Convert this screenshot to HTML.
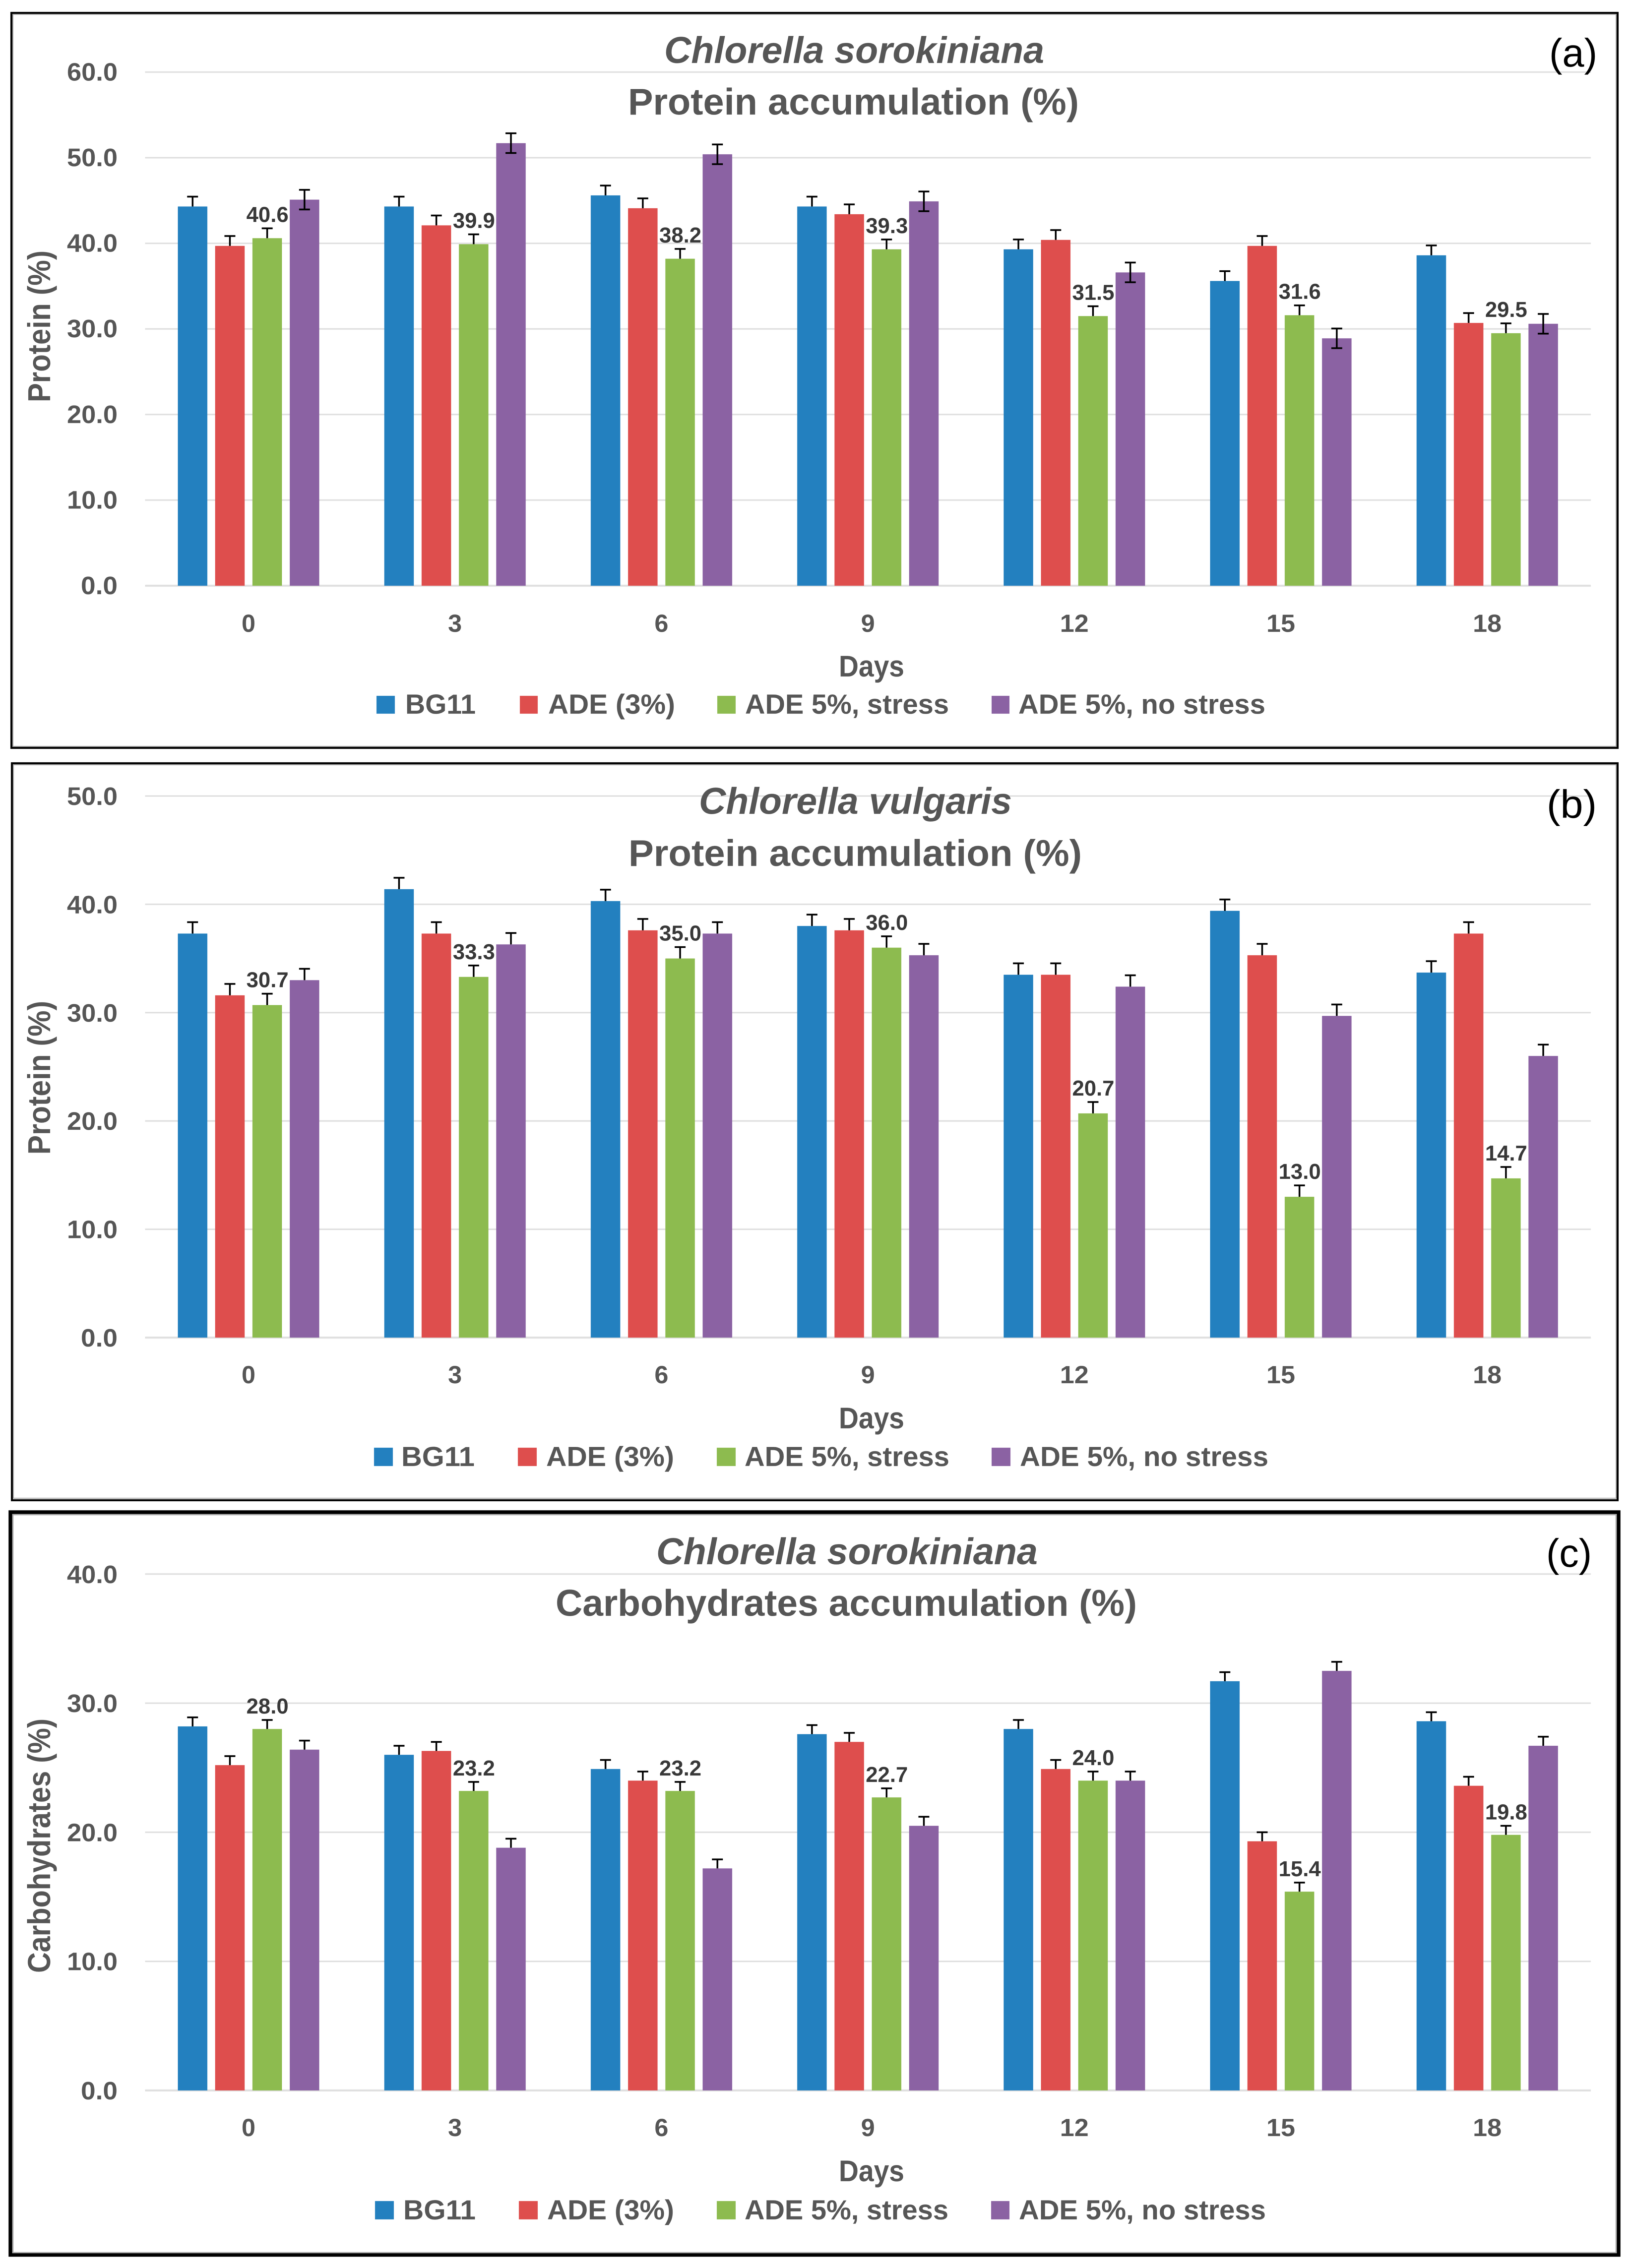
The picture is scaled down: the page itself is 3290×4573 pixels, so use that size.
<!DOCTYPE html>
<html lang="en">
<head>
<meta charset="utf-8">
<title>Chlorella protein and carbohydrate accumulation</title>
<style>
html,body{margin:0;padding:0;background:#fff;}
svg{display:block;filter:blur(0.7px);}
text{font-family:"Liberation Sans",sans-serif;font-weight:700;fill:#565656;}
.sp{font-size:75px;font-style:italic;}
.tt{font-size:75px;}
.lg{font-size:56px;}
.dy{font-size:60px;}
.yt{font-size:64px;}
.pl{font-size:80px;font-weight:400;fill:#000;}
</style>
</head>
<body>
<svg xmlns="http://www.w3.org/2000/svg" width="3290" height="4573" viewBox="0 0 3290 4573">
  <rect x="0" y="0" width="3290" height="4573" fill="#fff"/>

  <g>
    <rect x="23" y="26" width="3238" height="1482" fill="none" stroke="#000" stroke-width="4"/>
    <rect x="26" y="29" width="3232" height="1476" fill="none" stroke="#aaa" stroke-width="2"/>
    <g id="plot-a"></g>
    <text class="sp" x="1339" y="127" textLength="766" lengthAdjust="spacingAndGlyphs">Chlorella sorokiniana</text>
    <text class="tt" x="1266" y="231" textLength="909" lengthAdjust="spacingAndGlyphs">Protein accumulation (%)</text>
    <text class="pl" x="3123" y="134" textLength="97" lengthAdjust="spacingAndGlyphs">(a)</text>
    <text class="yt" transform="translate(101,811) rotate(-90)" textLength="306" lengthAdjust="spacingAndGlyphs">Protein (%)</text>
    <text class="dy" x="1691" y="1364" textLength="132" lengthAdjust="spacingAndGlyphs">Days</text>
    <g>
      <rect x="759" y="1403" width="37" height="36" fill="#2380BF"/>
      <text class="lg" x="817" y="1439" textLength="142" lengthAdjust="spacingAndGlyphs">BG11</text>
      <rect x="1048" y="1403" width="36" height="36" fill="#DE4E4D"/>
      <text class="lg" x="1105" y="1439" textLength="256" lengthAdjust="spacingAndGlyphs">ADE (3%)</text>
      <rect x="1446" y="1403" width="37" height="36" fill="#8DBB4F"/>
      <text class="lg" x="1502" y="1439" textLength="411" lengthAdjust="spacingAndGlyphs">ADE 5%, stress</text>
      <rect x="1999" y="1403" width="36" height="36" fill="#8B62A3"/>
      <text class="lg" x="2053" y="1439" textLength="498" lengthAdjust="spacingAndGlyphs">ADE 5%, no stress</text>
    </g>
  </g>

  <g>
    <rect x="24" y="1539" width="3237" height="1486" fill="none" stroke="#000" stroke-width="4"/>
    <rect x="27" y="1542" width="3231" height="1479" fill="none" stroke="#aaa" stroke-width="2"/>
    <g id="plot-b"></g>
    <text class="sp" x="1409" y="1641" textLength="631" lengthAdjust="spacingAndGlyphs">Chlorella vulgaris</text>
    <text class="tt" x="1267" y="1746" textLength="914" lengthAdjust="spacingAndGlyphs">Protein accumulation (%)</text>
    <text class="pl" x="3118" y="1649" textLength="101" lengthAdjust="spacingAndGlyphs">(b)</text>
    <text class="yt" transform="translate(101,2328) rotate(-90)" textLength="310" lengthAdjust="spacingAndGlyphs">Protein (%)</text>
    <text class="dy" x="1691" y="2880" textLength="132" lengthAdjust="spacingAndGlyphs">Days</text>
    <g>
      <rect x="754" y="2919" width="38" height="37" fill="#2380BF"/>
      <text class="lg" x="809" y="2956" textLength="148" lengthAdjust="spacingAndGlyphs">BG11</text>
      <rect x="1044" y="2919" width="38" height="37" fill="#DE4E4D"/>
      <text class="lg" x="1101" y="2956" textLength="258" lengthAdjust="spacingAndGlyphs">ADE (3%)</text>
      <rect x="1445" y="2919" width="38" height="37" fill="#8DBB4F"/>
      <text class="lg" x="1501" y="2956" textLength="413" lengthAdjust="spacingAndGlyphs">ADE 5%, stress</text>
      <rect x="1999" y="2919" width="38" height="37" fill="#8B62A3"/>
      <text class="lg" x="2056" y="2956" textLength="501" lengthAdjust="spacingAndGlyphs">ADE 5%, no stress</text>
    </g>
  </g>

  <g>
    <rect x="21" y="3049" width="3242" height="1497.5" fill="none" stroke="#000" stroke-width="7.5"/>
    <rect x="26" y="3054" width="3232" height="1488" fill="none" stroke="#aaa" stroke-width="2.5"/>
    <g id="plot-c"></g>
    <text class="sp" x="1323" y="3154" textLength="769" lengthAdjust="spacingAndGlyphs">Chlorella sorokiniana</text>
    <text class="tt" x="1120" y="3258" textLength="1172" lengthAdjust="spacingAndGlyphs">Carbohydrates accumulation (%)</text>
    <text class="pl" x="3117" y="3159" textLength="92" lengthAdjust="spacingAndGlyphs">(c)</text>
    <text class="yt" transform="translate(101,3978) rotate(-90)" textLength="513" lengthAdjust="spacingAndGlyphs">Carbohydrates (%)</text>
    <text class="dy" x="1691" y="4398" textLength="132" lengthAdjust="spacingAndGlyphs">Days</text>
    <g>
      <rect x="756" y="4438" width="38" height="37" fill="#2380BF"/>
      <text class="lg" x="813" y="4475" textLength="146" lengthAdjust="spacingAndGlyphs">BG11</text>
      <rect x="1046" y="4438" width="38" height="37" fill="#DE4E4D"/>
      <text class="lg" x="1103" y="4475" textLength="256" lengthAdjust="spacingAndGlyphs">ADE (3%)</text>
      <rect x="1445" y="4438" width="38" height="37" fill="#8DBB4F"/>
      <text class="lg" x="1501" y="4475" textLength="411" lengthAdjust="spacingAndGlyphs">ADE 5%, stress</text>
      <rect x="1998" y="4438" width="37" height="37" fill="#8B62A3"/>
      <text class="lg" x="2054" y="4475" textLength="498" lengthAdjust="spacingAndGlyphs">ADE 5%, no stress</text>
    </g>
  </g>
</svg>

<script>
// Shared categories
const days = ['0', '3', '6', '9', '12', '15', '18'];

// Panel (a) values: Chlorella sorokiniana protein
const aTicks = [0, 10, 20, 30, 40, 50, 60];
const aBG11 = [44.3, 44.3, 45.6, 44.3, 39.3, 35.6, 38.6];
const aADE3 = [39.7, 42.1, 44.1, 43.4, 40.4, 39.7, 30.7];
const aStress = [40.6, 39.9, 38.2, 39.3, 31.5, 31.6, 29.5];
const aNoStress = [45.1, 51.7, 50.4, 44.9, 36.6, 28.9, 30.6];
const aError = 1.15;

// Panel (b) values: Chlorella vulgaris protein
const bTicks = [0, 10, 20, 30, 40, 50];
const bBG11 = [37.3, 41.4, 40.3, 38.0, 33.5, 39.4, 33.7];
const bADE3 = [31.6, 37.3, 37.6, 37.6, 33.5, 35.3, 37.3];
const bStress = [30.7, 33.3, 35.0, 36.0, 20.7, 13.0, 14.7];
const bNoStress = [33.0, 36.3, 37.3, 35.3, 32.4, 29.7, 26.0];
const bError = 1.05;

// Panel (c) values: Chlorella sorokiniana carbohydrates
const cTicks = [0, 10, 20, 30, 40];
const cBG11 = [28.2, 26.0, 24.9, 27.6, 28.0, 31.7, 28.6];
const cADE3 = [25.2, 26.3, 24.0, 27.0, 24.9, 19.3, 23.6];
const cStress = [28.0, 23.2, 23.2, 22.7, 24.0, 15.4, 19.8];
const cNoStress = [26.4, 18.8, 17.2, 20.5, 24.0, 32.5, 26.7];
const cError = 0.7;

const NS = 'http://www.w3.org/2000/svg';

// Axis functions
function xGroup(i) { return 358.5 + 416.2 * i; }
function xBar(i, s) { return xGroup(i) + 75.2 * s; }
function yAxisA(v) { return 1181 - v * 17.26; }
function yAxisB(v) { return 2697 - v * 21.84; }
function yAxisC(v) { return 4215 - v * 26.03; }

function line(parent, x1, y1, x2, y2, color, width, name) {
  const el = document.createElementNS(NS, 'line');
  el.setAttribute('x1', x1);
  el.setAttribute('y1', y1);
  el.setAttribute('x2', x2);
  el.setAttribute('y2', y2);
  el.setAttribute('stroke', color);
  el.setAttribute('stroke-width', width);
  
  
  parent.appendChild(el);
}

function label(parent, str, x, y, size, width, color, name) {
  const el = document.createElementNS(NS, 'text');
  el.setAttribute('x', x);
  el.setAttribute('y', y);
  el.setAttribute('font-size', size);
  el.setAttribute('textLength', width);
  el.setAttribute('lengthAdjust', 'spacingAndGlyphs');
  el.style.fill = color;
  el.textContent = str;
  
  
  parent.appendChild(el);
}

function drawPanel(id, yAxis, ticks, seriesList, err, bothSidesLast, tickTextY, tickLabelBaseline) {
  const plot = document.getElementById(id);
  const colors = ['#2380BF', '#DE4E4D', '#8DBB4F', '#8B62A3'];
  const seriesNames = ['bg11', 'ade3', 'ade5-stress', 'ade5-no-stress'];
  ticks.forEach(function (t) {
    const y = yAxis(t);
    line(plot, 292.5, y, 3207, y, '#dfdfdf', t === 0 ? 4 : 3, 'gridline-' + t);
    const str = t.toFixed(1);
    const w = str.length === 4 ? 102 : 74;
    label(plot, str, 237 - w, y + tickTextY, 51, w, '#565656', 'y-tick-label-' + t);
  });
  days.forEach(function (d, i) {
    const w = d.length === 2 ? 58 : 28;
    label(plot, d, xGroup(i) + 142.5 - w / 2, tickLabelBaseline, 50, w, '#565656', 'x-tick-label-' + d);
  });
  seriesList.forEach(function (values, s) {
    values.forEach(function (v, i) {
      const rect = document.createElementNS(NS, 'rect');
      const top = yAxis(v);
      rect.setAttribute('x', xBar(i, s));
      rect.setAttribute('y', top);
      rect.setAttribute('width', 59.5);
      rect.setAttribute('height', yAxis(0) - top);
      rect.setAttribute('fill', colors[s]);
      
      
      plot.appendChild(rect);
    });
  });
  seriesList.forEach(function (values, s) {
    values.forEach(function (v, i) {
      const cx = xBar(i, s) + 29.75;
      const hi = yAxis(v + err);
      const both = bothSidesLast && s === 3;
      const lo = both ? yAxis(v - err) : yAxis(v);
      line(plot, cx, hi, cx, lo, '#000', 3.5, 'error-stem-' + seriesNames[s] + '-day-' + days[i]);
      line(plot, cx - 11, hi, cx + 11, hi, '#000', 3.5, 'error-cap-' + seriesNames[s] + '-day-' + days[i]);
      if (both) {
        line(plot, cx - 11, lo, cx + 11, lo, '#000', 3.5, 'error-cap-low-' + seriesNames[s] + '-day-' + days[i]);
      }
    });
  });
  seriesList[2].forEach(function (v, i) {
    const cx = xBar(i, 2) + 29.75;
    label(plot, v.toFixed(1), cx - 42, yAxis(v + err) - 13, 44, 85, '#383838', 'value-label-day-' + days[i]);
  });
}

drawPanel('plot-a', yAxisA, aTicks, [aBG11, aADE3, aStress, aNoStress], aError, true, 17, 1274);
drawPanel('plot-b', yAxisB, bTicks, [bBG11, bADE3, bStress, bNoStress], bError, false, 18, 2789);
drawPanel('plot-c', yAxisC, cTicks, [cBG11, cADE3, cStress, cNoStress], cError, false, 18, 4307);
</script>
</body>
</html>
